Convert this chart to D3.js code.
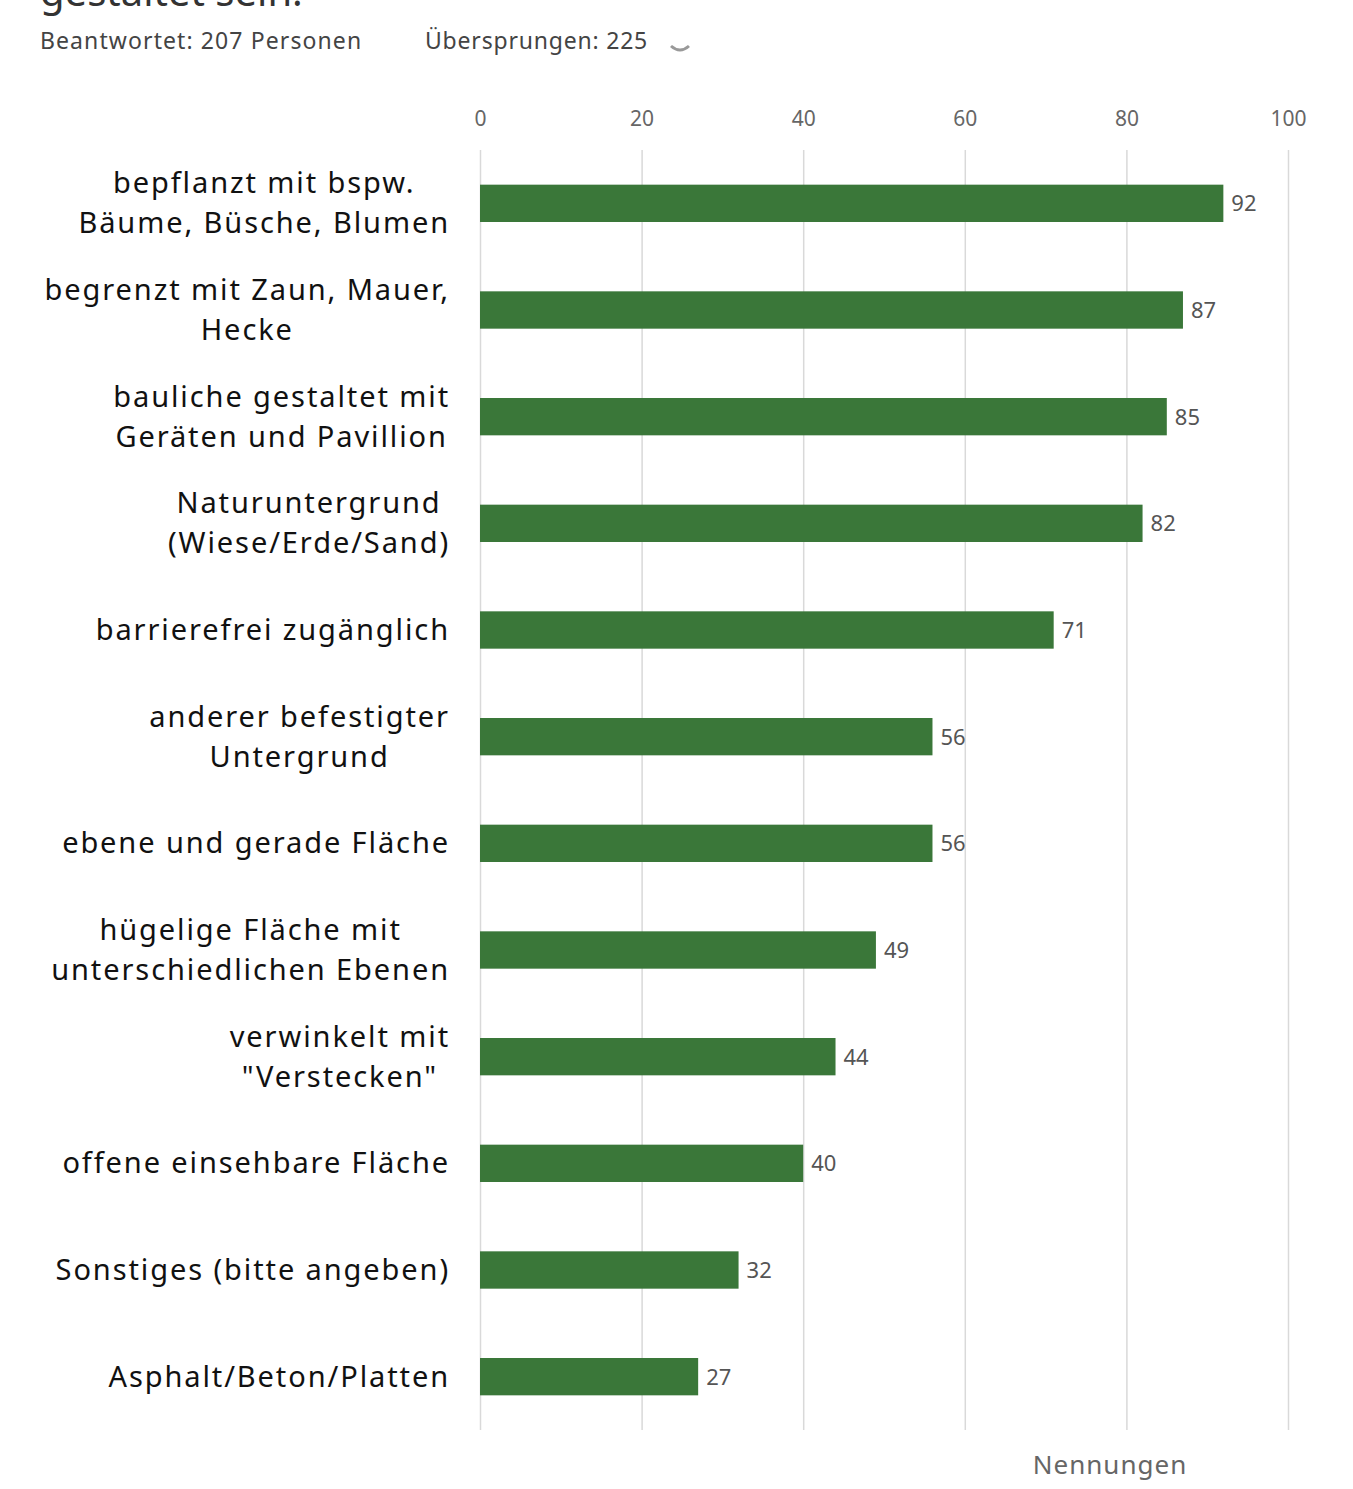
<!DOCTYPE html>
<html><head><meta charset="utf-8">
<script src="https://cdn.jsdelivr.net/npm/d3@7"></script>
<style>body{margin:0;background:#fff}svg{display:block}</style>
</head><body>
<svg id="c" width="1353" height="1489"></svg>
<script>
const categories = [
  "bepflanzt mit bspw.\nBäume, Büsche, Blumen",
  "begrenzt mit Zaun, Mauer,\nHecke",
  "bauliche gestaltet mit\nGeräten und Pavillion",
  "Naturuntergrund\n(Wiese/Erde/Sand)",
  "barrierefrei zugänglich",
  "anderer befestigter\nUntergrund",
  "ebene und gerade Fläche",
  "hügelige Fläche mit\nunterschiedlichen Ebenen",
  "verwinkelt mit\n\"Verstecken\"",
  "offene einsehbare Fläche",
  "Sonstiges (bitte angeben)",
  "Asphalt/Beton/Platten"
];
const values = [92, 87, 85, 82, 71, 56, 56, 49, 44, 40, 32, 27];
const tickValues = [0, 20, 40, 60, 80, 100];

const svg = d3.select("#c");
const font = "'Noto Sans', sans-serif";
const x = d3.scaleLinear().domain([0, 100]).range([480, 1288]);
const y = d3.scaleBand().domain(categories).range([150, 1430]).paddingInner(0.65).paddingOuter(0.325);

// header
svg.append("text").attr("x", 40).attr("y", 6).attr("font-family", font).attr("font-size", 40).attr("fill", "#333").text("gestaltet sein.");
svg.append("text").attr("x", 40).attr("y", 49).attr("font-family", font).attr("font-size", 23).attr("letter-spacing", 1.1).attr("fill", "#444").text("Beantwortet: 207 Personen");
svg.append("text").attr("x", 425).attr("y", 49).attr("font-family", font).attr("font-size", 23).attr("letter-spacing", 0.8).attr("fill", "#444").text("Übersprungen: 225");
svg.append("path").attr("d", "M671,46 Q680,54 689,46").attr("fill", "none").attr("stroke", "#999").attr("stroke-width", 3);

// grid
const grid = svg.append("g").attr("transform", "translate(0,1430)")
  .call(d3.axisBottom(x).tickValues(tickValues).tickSize(-1280).tickFormat(""));
grid.select(".domain").remove();
grid.selectAll("line").attr("stroke", "#d9d9d9").attr("stroke-width", 1.5);

// top axis labels
const ax = svg.append("g").attr("transform", "translate(0,126)")
  .call(d3.axisTop(x).tickValues(tickValues).tickSize(0).tickPadding(0));
ax.select(".domain").remove();
ax.selectAll("text").attr("font-family", font).attr("font-size", 21).attr("fill", "#666");

// bars
svg.append("g").selectAll("rect").data(values).join("rect")
  .attr("x", x(0)).attr("y", (d, i) => y(categories[i]))
  .attr("width", d => x(d) - x(0)).attr("height", y.bandwidth())
  .attr("fill", "#3a7739");

// value labels
svg.append("g").selectAll("text").data(values).join("text")
  .attr("x", d => x(d) + 8).attr("y", (d, i) => y(categories[i]) + y.bandwidth() / 2 + 8)
  .attr("font-family", font).attr("font-size", 22).attr("fill", "#555").text(d => d);

// category labels
const lg = svg.append("g");
categories.forEach((c, i) => {
  const lines = c.split("\n");
  const cy = y(c) + y.bandwidth() / 2;
  const t = lg.append("text").attr("font-family", font).attr("font-size", 29).attr("fill", "#111")
    .attr("letter-spacing", 1.9).attr("text-anchor", "middle");
  const lh = 40;
  const y0 = cy - (lines.length - 1) * lh / 2 + 10;
  lines.forEach((l, j) => t.append("tspan").attr("x", 0).attr("y", y0 + j * lh).text(l));
  let maxW = 0;
  t.selectAll("tspan").each(function () { maxW = Math.max(maxW, this.getComputedTextLength()); });
  t.selectAll("tspan").attr("x", 450 - maxW / 2);
});

svg.append("text").attr("x", 1110).attr("y", 1474).attr("text-anchor", "middle")
  .attr("font-family", font).attr("font-size", 26).attr("letter-spacing", 1).attr("fill", "#666").text("Nennungen");
</script>
</body></html>
